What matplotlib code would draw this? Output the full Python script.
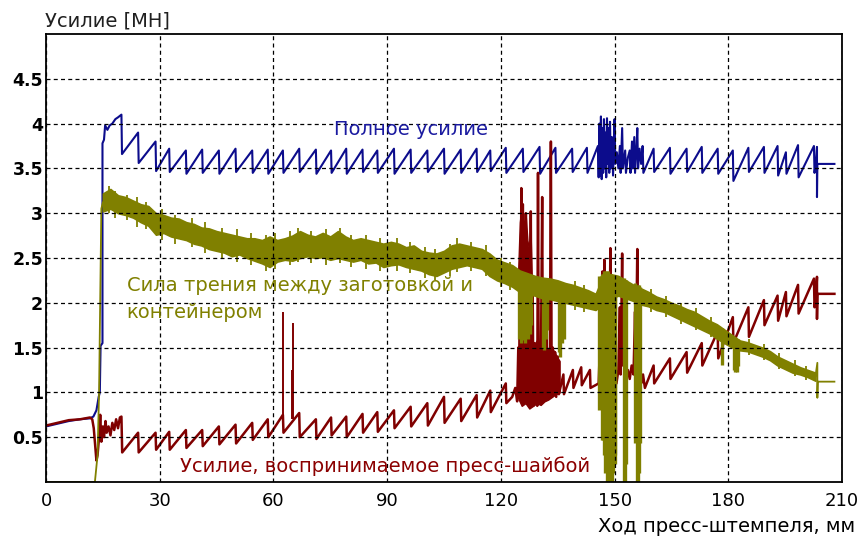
import numpy as np
import matplotlib
matplotlib.use('Agg')
import matplotlib.pyplot as plt

plt.rcParams['font.family'] = ['DejaVu Sans']

BLUE = '#0c0c8c'
OLIVE = '#808000'
RED = '#800000'

# ---------------- data ----------------
x_ticks = [0, 30, 60, 90, 120, 150, 180, 210]
y_ticks = [0.5, 1, 1.5, 2, 2.5, 3, 3.5, 4, 4.5]
y_tick_labels = ['0.5', '1', '1.5', '2', '2.5', '3', '3.5', '4', '4.5']

# Blue: total force
blue_start_x = [0, 3, 6, 9, 11.5, 12.5, 13.3, 13.9, 14.2, 14.4, 14.9, 14.9, 15.3, 15.6, 16.2, 16.8, 17.5, 18.3, 19.0]
blue_start_y = [0.62, 0.65, 0.68, 0.70, 0.71, 0.73, 0.80, 0.95, 1.00, 1.52, 1.55, 3.78, 3.82, 3.98, 3.93, 3.98, 4.00, 4.05, 4.07]
blue_peak_x1 = [19.9, 24.3, 28.9, 32.5, 36.9, 41.2, 45.6, 50.0, 54.4, 58.5, 62.5, 66.8, 71.2, 75.2, 79.2,
                83.5, 87.4, 91.8, 96.2, 100.6, 105.0, 109.4, 113.6, 117.2, 121.3, 125.8, 130.2, 134.4, 138.8, 142.7]
blue_peak_y1 = [4.10, 3.90, 3.80, 3.72, 3.70, 3.71, 3.70, 3.72, 3.70, 3.71, 3.70, 3.72, 3.71, 3.70, 3.72,
                3.71, 3.70, 3.72, 3.71, 3.70, 3.72, 3.71, 3.72, 3.70, 3.73, 3.72, 3.74, 3.73, 3.72, 3.73]
blue_min_y1 = [3.66, 3.56, 3.47, 3.46, 3.44, 3.45, 3.44, 3.46, 3.45, 3.44, 3.45, 3.46, 3.44, 3.45, 3.44,
               3.46, 3.45, 3.44, 3.45, 3.46, 3.44, 3.45, 3.46, 3.47, 3.45, 3.46, 3.44, 3.45, 3.46, 3.45]
blue_chaos_x = [145.6, 145.8, 146.0, 146.2, 146.4, 146.6, 146.8, 147.0, 147.2, 147.4, 147.6, 147.8, 148.0, 148.2,
                148.4, 148.6, 148.8, 149.0, 149.3, 149.6, 150.0, 150.2, 150.6, 151.0, 151.4, 151.6, 152.0, 152.2,
                152.8, 153.0, 153.5, 154.0, 154.2, 154.6, 154.8, 155.2, 155.4, 155.8, 156.0, 156.2, 156.6, 157.0,
                157.4, 157.6]
blue_chaos_y = [3.75, 3.40, 4.00, 3.42, 4.08, 3.38, 3.95, 3.45, 4.05, 3.50, 3.90, 3.40, 4.06, 3.55,
                3.95, 3.45, 4.02, 3.50, 3.85, 3.42, 4.05, 3.55, 3.68, 3.50, 3.75, 3.45, 3.95, 3.50,
                3.70, 3.45, 3.62, 3.70, 3.45, 3.80, 3.50, 3.85, 3.45, 3.75, 3.95, 3.50, 3.72, 3.55,
                3.75, 3.45]
blue_peak_x2 = [160.3, 164.6, 169.0, 173.0, 177.2, 181.2, 185.3, 189.4, 193.0, 195.2, 198.4, 202.6]
blue_peak_y2 = [3.72, 3.73, 3.72, 3.74, 3.72, 3.70, 3.73, 3.74, 3.75, 3.68, 3.76, 3.75]
blue_min_y2 = [3.46, 3.44, 3.46, 3.45, 3.44, 3.36, 3.46, 3.45, 3.42, 3.44, 3.40, 3.45]
blue_end_x = [203.2, 203.4, 203.4, 203.5, 208.0]
blue_end_y = [3.60, 3.74, 3.18, 3.55, 3.55]

# Red: force taken by the dummy block
red_start_x = [0, 3, 6, 9, 11.6, 12.2, 12.6, 13.0, 13.3, 13.6, 14.0, 14.3, 14.6, 15.0, 15.3, 15.7, 16.0,
               16.5, 17.0, 17.5, 18.0, 18.5, 19.0, 19.5, 19.9, 20.1]
red_start_y = [0.63, 0.66, 0.69, 0.70, 0.72, 0.70, 0.60, 0.40, 0.24, 0.30, 0.50, 0.75, 0.45, 0.62, 0.50, 0.68, 0.55,
               0.62, 0.52, 0.66, 0.58, 0.70, 0.60, 0.72, 0.73, 0.33]
red_peak_x1 = [24.3, 28.9, 32.5, 36.9, 41.2, 45.6, 50.0, 54.4, 58.5, 62.5, 66.8, 71.2, 75.2, 79.2, 83.5,
               87.4, 91.8, 96.2, 100.6, 105.0, 109.4, 113.6, 117.2, 121.3]
red_peak_y1 = [0.55, 0.55, 0.56, 0.58, 0.58, 0.62, 0.64, 0.66, 0.70, 0.75, 0.77, 0.70, 0.72, 0.73, 0.76,
               0.78, 0.80, 0.84, 0.88, 0.95, 0.93, 0.97, 1.02, 1.10]
red_min_y1 = [0.33, 0.36, 0.36, 0.38, 0.40, 0.42, 0.43, 0.47, 0.50, 0.55, 0.50, 0.48, 0.52, 0.50, 0.55,
              0.56, 0.60, 0.62, 0.63, 0.66, 0.68, 0.72, 0.78, 0.88]
red_chaos1_x = [123.0, 123.8, 124.3, 124.6, 124.8, 125.0, 125.2, 125.4, 125.6, 125.8, 126.0, 126.2, 126.4,
                126.6, 126.8, 127.0, 127.2, 127.5, 127.7, 127.9, 128.1, 128.4, 128.6, 128.9, 129.1, 129.4,
                129.6, 129.8, 130.0, 130.3, 130.5, 130.9, 131.1, 131.4, 131.7, 132.0, 132.3, 132.6, 132.9,
                133.2, 133.4, 133.7, 134.0, 134.3, 134.6, 135.0, 135.3]
red_chaos1_y = [0.95, 1.05, 0.90, 1.50, 1.00, 2.20, 1.20, 3.28, 1.40, 3.10, 1.30, 2.90, 1.10,
                3.00, 1.20, 2.60, 1.00, 2.40, 0.95, 3.02, 1.00, 2.10, 0.85, 1.55, 0.90, 1.50,
                0.85, 3.45, 1.00, 1.50, 0.90, 3.18, 1.00, 1.45, 0.95, 1.60, 0.95, 1.40, 1.00,
                3.80, 1.10, 1.50, 1.00, 1.45, 0.95, 1.40, 0.98]
red_block_x = [124.6, 125.0, 125.4, 125.8, 126.2, 126.6, 127.0, 127.4, 127.8, 128.2]
red_block_lo = [1.80, 1.85, 1.90, 1.85, 1.80, 1.90, 1.85, 1.90, 1.95, 1.85]
red_block_hi = [2.40, 2.90, 3.05, 2.95, 2.85, 2.95, 2.70, 2.60, 2.85, 2.20]
red_low_x = [124.4, 125.5, 126.5, 127.5, 128.5, 129.5, 130.5, 131.5, 132.5, 133.5, 134.5, 135.5]
red_low_lo = [0.95, 0.85, 0.88, 0.82, 0.85, 0.88, 0.86, 0.90, 0.92, 0.95, 0.98, 1.00]
red_low_hi = [1.45, 1.62, 1.55, 1.60, 1.52, 1.58, 1.50, 1.55, 1.48, 1.50, 1.42, 1.35]
red_peak_x2 = [136.5, 139.0, 141.2, 143.5]
red_peak_y2 = [1.20, 1.25, 1.28, 1.25]
red_min_y2 = [0.98, 1.05, 1.08, 1.05]
red_chaos2_x = [145.8, 146.2, 146.4, 146.8, 147.0, 147.3, 147.5, 147.8, 148.0, 148.3, 148.6, 148.9, 149.1,
                149.4, 149.6, 150.0, 150.5, 151.0, 151.4, 151.6, 152.0, 152.2, 152.6, 153.0, 153.5, 154.0,
                154.5, 155.0, 155.4, 155.6, 156.0, 156.2, 156.6, 157.0, 157.5, 158.0]
red_chaos2_y = [1.10, 1.60, 1.15, 2.35, 1.20, 2.48, 1.30, 2.10, 1.25, 2.30, 1.40, 2.61, 1.30,
                1.70, 1.15, 1.30, 1.10, 1.25, 1.95, 1.20, 2.55, 1.30, 1.40, 1.15, 1.25, 1.15,
                1.30, 1.20, 1.90, 1.25, 2.60, 1.40, 1.50, 1.10, 1.20, 1.05]
red_peak_x3 = [160.3, 164.6, 169.0, 173.0, 177.2, 181.2, 185.3, 189.4, 193.0, 195.2, 198.4, 202.6]
red_peak_y3 = [1.30, 1.38, 1.45, 1.55, 1.68, 1.84, 1.95, 2.03, 2.08, 2.12, 2.20, 2.27]
red_min_y3 = [1.10, 1.15, 1.22, 1.30, 1.38, 1.55, 1.62, 1.75, 1.80, 1.85, 1.88, 1.95]
red_end_x = [203.2, 203.4, 203.4, 203.5, 208.0]
red_end_y = [2.10, 2.29, 1.82, 2.10, 2.10]
red_spike_x = [62.4, 65.0, 65.1]
red_spike_lo = [0.70, 0.70, 0.70]
red_spike_hi = [1.90, 1.25, 1.77]

# Olive: friction between billet and container
olive_start_x = [0, 12.9, 13.6, 14.0, 14.6, 15.0]
olive_start_y = [0.0, 0.0, 0.30, 1.00, 3.05, 3.12]
olive_band_x = [15, 17, 19, 21, 23, 25, 27, 29, 31, 33, 35, 37, 39, 41, 43, 45, 47, 49, 51, 53,
                55, 57, 59, 61, 63, 65, 67, 69, 71, 73, 75, 77, 79, 81, 83, 85, 87, 89, 91, 93,
                95, 97, 99, 101, 103, 105, 107, 109, 111, 113, 115, 117, 119, 121, 123, 125, 127, 129, 131, 133,
                135, 137, 139, 141, 143, 145, 147, 149, 151, 153, 155, 157, 159, 161, 163, 165, 167, 169, 171, 173,
                175, 177, 179, 181, 183, 185, 187, 189, 191, 193, 195, 197, 199, 201, 203]
olive_lo = [3.02, 3.05, 3.00, 2.98, 2.95, 2.90, 2.86, 2.76, 2.78, 2.74, 2.72, 2.70, 2.66, 2.64, 2.60, 2.58, 2.56, 2.52, 2.54, 2.50,
            2.47, 2.44, 2.40, 2.46, 2.48, 2.47, 2.50, 2.52, 2.50, 2.51, 2.48, 2.50, 2.48, 2.46, 2.48, 2.44, 2.45, 2.40, 2.42, 2.43,
            2.40, 2.38, 2.36, 2.32, 2.30, 2.34, 2.38, 2.40, 2.42, 2.40, 2.38, 2.30, 2.25, 2.22, 2.18, 2.12, 2.10, 2.08, 2.05, 2.04,
            2.02, 2.00, 1.98, 1.96, 1.94, 1.92, 2.00, 2.05, 2.08, 2.05, 2.02, 1.98, 1.96, 1.92, 1.90, 1.86, 1.82, 1.78, 1.74, 1.70,
            1.66, 1.60, 1.55, 1.50, 1.47, 1.46, 1.43, 1.40, 1.36, 1.30, 1.26, 1.22, 1.20, 1.17, 1.13]
olive_hi = [3.22, 3.27, 3.20, 3.18, 3.14, 3.10, 3.08, 3.00, 2.98, 2.95, 2.94, 2.90, 2.88, 2.84, 2.83, 2.80, 2.78, 2.76, 2.74, 2.72,
            2.72, 2.70, 2.74, 2.70, 2.72, 2.75, 2.80, 2.76, 2.74, 2.78, 2.74, 2.80, 2.74, 2.70, 2.72, 2.70, 2.68, 2.66, 2.68, 2.66,
            2.62, 2.64, 2.58, 2.56, 2.55, 2.58, 2.64, 2.66, 2.64, 2.62, 2.60, 2.55, 2.48, 2.45, 2.42, 2.36, 2.33, 2.30, 2.28, 2.27,
            2.25, 2.22, 2.20, 2.17, 2.14, 2.10, 2.30, 2.32, 2.30, 2.25, 2.20, 2.16, 2.12, 2.07, 2.04, 2.00, 1.97, 1.93, 1.90, 1.85,
            1.80, 1.76, 1.70, 1.64, 1.58, 1.56, 1.53, 1.50, 1.46, 1.40, 1.36, 1.32, 1.28, 1.25, 1.22]
olive_noise_x = [16.5, 18.2, 21.5, 24.0, 26.5, 30.5, 34.0, 38.5, 42.0, 46.5, 50.5, 54.0, 58.0, 60.5, 64.5,
                 66.5, 70.0, 74.0, 77.5, 80.5, 84.5, 88.0, 92.5, 96.0, 100.0, 102.5, 106.5, 108.5, 112.0, 116.0,
                 120.0, 122.5, 139.5, 142.0, 159.5, 163.5, 167.5, 171.5, 175.5, 185.5, 189.5, 193.5, 197.5, 200.5]
olive_noise_lo = [3.00, 2.95, 2.92, 2.85, 2.82, 2.70, 2.66, 2.62, 2.56, 2.50, 2.46, 2.42, 2.36, 2.38, 2.42,
                  2.45, 2.44, 2.42, 2.44, 2.40, 2.38, 2.36, 2.36, 2.33, 2.28, 2.25, 2.30, 2.34, 2.36, 2.30,
                  2.18, 2.14, 1.92, 1.90, 1.90, 1.84, 1.76, 1.70, 1.62, 1.42, 1.36, 1.26, 1.18, 1.14]
olive_noise_hi = [3.30, 3.25, 3.20, 3.18, 3.12, 3.05, 2.98, 2.95, 2.90, 2.84, 2.82, 2.78, 2.76, 2.78, 2.80,
                  2.84, 2.80, 2.82, 2.84, 2.76, 2.76, 2.72, 2.72, 2.68, 2.62, 2.60, 2.66, 2.72, 2.68, 2.64,
                  2.50, 2.46, 2.24, 2.20, 2.15, 2.08, 2.00, 1.94, 1.84, 1.60, 1.54, 1.44, 1.36, 1.30]
olive_dip_x = [124.8, 125.2, 125.6, 126.0, 126.4, 126.8, 127.2, 127.6, 128.0, 131.0, 131.4, 131.8, 132.2,
               135.3, 135.7, 136.1, 136.6, 145.9, 146.3, 146.7, 147.0, 147.3, 147.6, 147.9, 148.2, 148.5,
               148.8, 149.1, 149.4, 149.7, 150.0, 150.2, 152.4, 152.7, 153.0, 155.5, 155.8, 156.1, 156.4,
               156.7, 178.4, 181.4, 181.8, 182.2, 182.6]
olive_dip_lo = [1.60, 1.55, 1.58, 1.65, 1.55, 1.70, 1.60, 1.65, 1.75, 1.50, 1.47, 1.60, 1.70,
                1.45, 1.40, 1.55, 1.60, 0.80, 0.90, 0.47, 0.47, 0.30, 0.10, 0.0, 0.0, 0.0,
                0.0, 0.0, 0.0, 0.10, 0.20, 0.30, 0.0, 0.0, 0.20, 0.44, 0.0, 0.0, 0.10,
                0.43, 1.31, 1.25, 1.23, 1.23, 1.30]
olive_dip_hi = [2.30, 2.30, 2.28, 2.28, 2.26, 2.26, 2.25, 2.25, 2.22, 2.22, 2.20, 2.20, 2.20,
                2.18, 2.18, 2.16, 2.16, 2.30, 2.30, 2.32, 2.32, 2.35, 2.35, 2.35, 2.35, 2.32,
                2.32, 2.30, 2.30, 2.30, 2.28, 2.28, 2.28, 2.26, 2.26, 2.22, 2.20, 2.20, 2.20,
                2.18, 1.72, 1.62, 1.62, 1.60, 1.60]
olive_end_x = [203.0, 203.5, 203.5, 203.6, 208.0]
olive_end_y = [1.18, 1.33, 0.94, 1.12, 1.12]


def sawtooth(peak_x, peak_y, min_y, drop=0.15):
    xs, ys = [], []
    for px, py, my in zip(peak_x, peak_y, min_y):
        xs += [px, px + drop]
        ys += [py, my]
    return xs, ys


# ---------------- figure ----------------
fig = plt.figure(figsize=(8.6, 5.42), dpi=100)
ax = fig.add_axes([46 / 860, 60 / 542, 796 / 860, 448 / 542])

# blue
bx1, by1 = sawtooth(blue_peak_x1, blue_peak_y1, blue_min_y1)
bx2, by2 = sawtooth(blue_peak_x2, blue_peak_y2, blue_min_y2)
blue_x = blue_start_x + bx1 + blue_chaos_x + bx2 + blue_end_x
blue_y = blue_start_y + by1 + blue_chaos_y + by2 + blue_end_y
ax.plot(blue_x, blue_y, color=BLUE, lw=1.5, zorder=2.0)

# red
rx1, ry1 = sawtooth(red_peak_x1, red_peak_y1, red_min_y1)
rx2, ry2 = sawtooth(red_peak_x2, red_peak_y2, red_min_y2)
rx3, ry3 = sawtooth(red_peak_x3, red_peak_y3, red_min_y3)
red_x = red_start_x + rx1 + red_chaos1_x + rx2 + red_chaos2_x + rx3 + red_end_x
red_y = red_start_y + ry1 + red_chaos1_y + ry2 + red_chaos2_y + ry3 + red_end_y
ax.plot(red_x, red_y, color=RED, lw=1.8, zorder=2.1)
ax.vlines(red_spike_x, red_spike_lo, red_spike_hi, color=RED, lw=1.4, zorder=2.1)
ax.fill_between(red_block_x, red_block_lo, red_block_hi, facecolor=RED, edgecolor=RED, lw=1.0, zorder=2.1)
ax.fill_between(red_low_x, red_low_lo, red_low_hi, facecolor=RED, edgecolor=RED, lw=1.0, zorder=2.1)

# olive
ax.plot(olive_start_x, olive_start_y, color=OLIVE, lw=1.3, zorder=2.2)
ax.fill_between(olive_band_x, olive_lo, olive_hi, facecolor=OLIVE, edgecolor=OLIVE, lw=1.2, zorder=2.2)
ax.vlines(olive_noise_x, olive_noise_lo, olive_noise_hi, color=OLIVE, lw=1.3, zorder=2.2)
ax.vlines(olive_dip_x, olive_dip_lo, olive_dip_hi, color=OLIVE, lw=2.4, zorder=2.2)
ax.plot(olive_end_x, olive_end_y, color=OLIVE, lw=1.3, zorder=2.2)

# axes styling
ax.set_xlim(0, 210)
ax.set_ylim(0, 5)
ax.set_xticks(x_ticks)
ax.set_xticklabels([str(v) for v in x_ticks], fontsize=13)
ax.set_yticks(y_ticks)
ax.set_yticklabels(y_tick_labels, fontweight='bold', fontsize=12.5)
ax.tick_params(axis='both', length=0, colors='black')
ax.tick_params(axis='x', pad=7)
ax.tick_params(axis='y', pad=2)
ax.set_axisbelow(False)
ax.grid(True, color='black', linestyle=(0, (3.2, 2.6)), lw=0.9)
for s in ax.spines.values():
    s.set_linewidth(1.3)
    s.set_color('black')

# annotations
ax.text(76, 3.93, 'Полное усилие', color='#1a1aa0', fontsize=14, ha='left', va='center', zorder=5)
ax.text(21.3, 2.04, 'Сила трения между заготовкой и\nконтейнером', color=OLIVE, fontsize=14,
        ha='left', va='center', linespacing=1.5, zorder=5)
ax.text(35.3, 0.18, 'Усилие, воспринимаемое пресс-шайбой', color='#8b0000', fontsize=14,
        ha='left', va='center', zorder=5)

fig.text(45 / 860, 1 - 21 / 542, 'Усилие [МН]', fontsize=14, ha='left', va='center', color='#202020')
fig.text(855 / 860, 1 - 527 / 542, 'Ход пресс-штемпеля, мм', fontsize=14, ha='right', va='center', color='black')

fig.savefig('out.png', dpi=100)
